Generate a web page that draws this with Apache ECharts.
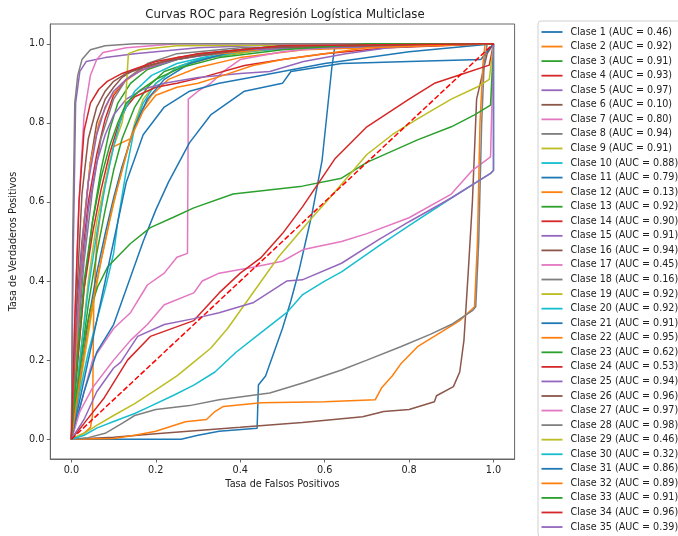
<!DOCTYPE html>
<html>
  <head>
    <meta charset="utf-8" />
    <title>Curvas ROC</title>
    <script src="https://cdn.jsdelivr.net/npm/echarts@6/dist/echarts.min.js"></script>
  </head>

  <body style="margin: 0">
    <div id="main" style="width: 678px; height: 536px"></div>
    <script type="text/javascript">
      var myChart = echarts.init(document.getElementById("main"));

      // AUC per class as printed in the legend
      const aucLabels = [
        "0.46", "0.92", "0.91", "0.93", "0.97", "0.10", "0.80", "0.94", "0.91", "0.88",
        "0.79", "0.13", "0.92", "0.90", "0.91", "0.94", "0.45", "0.16", "0.92", "0.92",
        "0.91", "0.95", "0.62", "0.53", "0.94", "0.96", "0.97", "0.98", "0.46", "0.32",
        "0.86", "0.89", "0.91", "0.96", "0.39"
      ];
      const tickVals = [0, 0.2, 0.4, 0.6, 0.8, 1.0];
      const tab10 = ["#1f77b4", "#ff7f0e", "#2ca02c", "#d62728", "#9467bd",
                     "#8c564b", "#e377c2", "#7f7f7f", "#bcbd22", "#17becf"];

      // [FPR, TPR] points
      const clase1 = [[0,0],[0.26,0],[0.3,0.01],[0.35,0.02],[0.44,0.028],[0.443,0.137],[0.46,0.16],[0.48,0.22],[0.5,0.28],[0.52,0.35],[0.54,0.43],[0.555,0.5],[0.57,0.57],[0.594,0.706],[0.617,0.94],[0.625,1],[1,1]];
      const clase2 = [[0,0],[0.03,0.015],[0.045,0.03],[0.05,0.06],[0.053,0.35],[0.06,0.5],[0.075,0.62],[0.09,0.7],[0.1,0.74],[0.14,0.76],[0.16,0.82],[0.19,0.87],[0.23,0.91],[0.3,0.94],[0.4,0.965],[0.55,0.985],[1,1]];
      const clase3 = [[0,0],[0.02,0.18],[0.04,0.34],[0.06,0.47],[0.08,0.58],[0.1,0.68],[0.12,0.76],[0.15,0.84],[0.18,0.89],[0.22,0.93],[0.3,0.96],[0.45,0.985],[0.6,1],[1,1]];
      const clase4 = [[0,0],[0.01,0.22],[0.025,0.45],[0.04,0.6],[0.06,0.72],[0.08,0.81],[0.1,0.87],[0.13,0.91],[0.17,0.94],[0.25,0.965],[0.4,0.985],[0.6,0.998],[1,1]];
      const clase5 = [[0,0],[0.004,0.45],[0.01,0.85],[0.02,0.93],[0.035,0.955],[0.08,0.965],[0.15,0.975],[0.3,0.99],[0.5,0.998],[1,1]];
      const clase6 = [[0,0],[0.1,0.005],[0.2,0.014],[0.3,0.022],[0.4,0.03],[0.547,0.042],[0.69,0.057],[0.74,0.07],[0.8,0.075],[0.86,0.095],[0.865,0.11],[0.905,0.133],[0.92,0.17],[0.93,0.25],[0.94,0.42],[0.95,0.6],[0.96,0.86],[0.985,0.975],[1,1]];
      const clase7 = [[0,0],[0.02,0.08],[0.05,0.2],[0.1,0.28],[0.14,0.32],[0.18,0.39],[0.22,0.42],[0.25,0.46],[0.275,0.47],[0.277,0.86],[0.3,0.88],[0.33,0.9],[0.36,0.93],[0.4,0.96],[0.5,0.98],[0.6,0.99],[1,1]];
      const clase8 = [[0,0],[0.015,0.25],[0.03,0.45],[0.05,0.63],[0.07,0.76],[0.1,0.86],[0.13,0.91],[0.18,0.95],[0.25,0.975],[0.4,0.99],[1,1]];
      const clase9 = [[0,0],[0.03,0.2],[0.05,0.33],[0.07,0.45],[0.09,0.55],[0.11,0.64],[0.13,0.72],[0.15,0.8],[0.17,0.86],[0.2,0.9],[0.25,0.94],[0.35,0.97],[0.5,0.99],[1,1]];
      const clase10 = [[0,0],[0.02,0.12],[0.04,0.22],[0.06,0.3],[0.08,0.38],[0.1,0.47],[0.11,0.55],[0.13,0.68],[0.15,0.79],[0.17,0.85],[0.2,0.9],[0.25,0.94],[0.3,0.96],[0.4,0.98],[0.55,0.99],[1,1]];
      const clase11 = [[0,0],[0.03,0.12],[0.06,0.22],[0.1,0.29],[0.13,0.38],[0.17,0.5],[0.2,0.58],[0.23,0.65],[0.28,0.75],[0.33,0.82],[0.41,0.88],[0.5,0.9],[0.52,0.93],[0.64,0.95],[0.8,0.955],[0.97,0.96],[1,1]];
      const clase12 = [[0,0],[0.1,0.002],[0.15,0.01],[0.2,0.02],[0.27,0.044],[0.32,0.05],[0.34,0.07],[0.36,0.083],[0.45,0.092],[0.6,0.095],[0.72,0.1],[0.735,0.13],[0.76,0.16],[0.78,0.19],[0.82,0.234],[0.875,0.27],[0.92,0.3],[0.955,0.335],[0.962,0.5],[0.968,0.8],[0.975,0.95],[0.98,1],[1,1]];
      const clase13 = [[0,0],[0.015,0.2],[0.03,0.38],[0.05,0.55],[0.07,0.68],[0.09,0.78],[0.11,0.85],[0.14,0.9],[0.18,0.935],[0.25,0.96],[0.35,0.98],[0.5,0.995],[1,1]];
      const clase14 = [[0,0],[0.015,0.2],[0.03,0.38],[0.05,0.52],[0.07,0.63],[0.09,0.72],[0.11,0.79],[0.13,0.84],[0.15,0.866],[0.2,0.89],[0.25,0.9],[0.31,0.915],[0.41,0.945],[0.5,0.96],[0.6,0.975],[0.75,0.99],[1,1]];
      const clase15 = [[0,0],[0.01,0.2],[0.025,0.42],[0.04,0.58],[0.06,0.7],[0.08,0.77],[0.1,0.82],[0.13,0.86],[0.17,0.885],[0.22,0.9],[0.3,0.915],[0.4,0.925],[0.47,0.93],[0.55,0.955],[0.65,0.975],[0.75,0.99],[0.9,0.998],[1,1]];
      const clase16 = [[0,0],[0.01,0.3],[0.025,0.5],[0.045,0.7],[0.06,0.8],[0.08,0.86],[0.1,0.89],[0.12,0.915],[0.15,0.935],[0.2,0.95],[0.3,0.975],[0.5,0.995],[1,1]];
      const clase17 = [[0,0],[0.02,0.07],[0.05,0.13],[0.1,0.2],[0.14,0.25],[0.18,0.29],[0.22,0.34],[0.29,0.37],[0.31,0.4],[0.35,0.42],[0.43,0.435],[0.5,0.45],[0.55,0.48],[0.64,0.5],[0.7,0.52],[0.8,0.56],[0.9,0.62],[0.95,0.68],[0.993,0.714],[1,1]];
      const clase18 = [[0,0],[0.04,0.004],[0.08,0.015],[0.12,0.04],[0.15,0.06],[0.2,0.075],[0.28,0.085],[0.35,0.1],[0.47,0.117],[0.55,0.143],[0.64,0.175],[0.7,0.2],[0.78,0.234],[0.85,0.265],[0.9,0.29],[0.95,0.325],[0.958,0.335],[0.965,0.5],[0.972,0.8],[0.978,0.95],[0.985,1],[1,1]];
      const clase19 = [[0,0],[0.02,0.2],[0.04,0.4],[0.06,0.55],[0.08,0.65],[0.1,0.74],[0.12,0.8],[0.128,0.85],[0.135,0.975],[0.16,0.985],[0.25,0.995],[1,1]];
      const clase20 = [[0,0],[0.02,0.2],[0.04,0.38],[0.06,0.52],[0.08,0.64],[0.1,0.74],[0.12,0.82],[0.15,0.88],[0.19,0.92],[0.25,0.95],[0.35,0.975],[0.5,0.99],[1,1]];
      const clase21 = [[0,0],[0.02,0.15],[0.04,0.3],[0.06,0.42],[0.08,0.52],[0.1,0.61],[0.12,0.69],[0.15,0.79],[0.18,0.86],[0.22,0.91],[0.28,0.95],[0.38,0.98],[0.5,0.995],[1,1]];
      const clase22 = [[0,0],[0.015,0.3],[0.03,0.55],[0.045,0.7],[0.065,0.8],[0.09,0.86],[0.12,0.9],[0.16,0.93],[0.22,0.955],[0.3,0.97],[0.5,0.99],[1,1]];
      const clase23 = [[0,0],[0.01,0.1],[0.03,0.25],[0.045,0.33],[0.062,0.385],[0.086,0.436],[0.14,0.495],[0.187,0.535],[0.243,0.562],[0.29,0.585],[0.383,0.62],[0.547,0.64],[0.64,0.66],[0.7,0.7],[0.82,0.757],[0.9,0.79],[0.955,0.82],[0.993,0.845],[1,1]];
      const clase24 = [[0,0],[0.03,0.04],[0.078,0.105],[0.133,0.2],[0.187,0.26],[0.29,0.3],[0.35,0.37],[0.4,0.42],[0.45,0.46],[0.5,0.52],[0.547,0.587],[0.625,0.71],[0.7,0.79],[0.8,0.86],[0.86,0.9],[0.93,0.925],[0.99,0.946],[1,1]];
      const clase25 = [[0,0],[0.01,0.25],[0.025,0.48],[0.04,0.65],[0.06,0.77],[0.08,0.84],[0.1,0.88],[0.13,0.91],[0.17,0.935],[0.25,0.96],[0.4,0.985],[1,1]];
      const clase26 = [[0,0],[0.012,0.35],[0.025,0.62],[0.04,0.76],[0.06,0.84],[0.08,0.88],[0.1,0.905],[0.13,0.925],[0.17,0.94],[0.22,0.955],[0.3,0.97],[0.45,0.99],[1,1]];
      const clase27 = [[0,0],[0.008,0.3],[0.018,0.6],[0.03,0.82],[0.045,0.92],[0.06,0.96],[0.075,0.978],[0.13,0.99],[0.25,1],[1,1]];
      const clase28 = [[0,0],[0.003,0.5],[0.008,0.85],[0.015,0.92],[0.025,0.96],[0.045,0.985],[0.08,0.995],[0.15,1],[1,1]];
      const clase29 = [[0,0],[0.03,0.015],[0.06,0.035],[0.1,0.06],[0.15,0.09],[0.2,0.125],[0.25,0.16],[0.29,0.195],[0.33,0.23],[0.37,0.28],[0.41,0.34],[0.45,0.4],[0.49,0.46],[0.53,0.51],[0.57,0.56],[0.62,0.62],[0.7,0.72],[0.76,0.77],[0.82,0.81],[0.9,0.86],[0.96,0.89],[0.99,0.91],[1,1]];
      const clase30 = [[0,0],[0.03,0.01],[0.06,0.028],[0.1,0.045],[0.15,0.065],[0.18,0.08],[0.24,0.11],[0.29,0.137],[0.34,0.17],[0.39,0.22],[0.45,0.27],[0.51,0.32],[0.547,0.365],[0.6,0.4],[0.64,0.423],[0.73,0.49],[0.8,0.54],[0.9,0.61],[0.96,0.65],[0.993,0.672],[1,0.68],[1,1]];
      const clase31 = [[0,0],[0.03,0.15],[0.06,0.3],[0.08,0.4],[0.1,0.5],[0.13,0.65],[0.17,0.77],[0.22,0.84],[0.28,0.88],[0.35,0.9],[0.45,0.92],[0.6,0.95],[0.8,0.98],[1,1]];
      const clase32 = [[0,0],[0.02,0.15],[0.04,0.28],[0.06,0.4],[0.08,0.5],[0.1,0.6],[0.12,0.68],[0.14,0.76],[0.17,0.83],[0.2,0.87],[0.25,0.89],[0.3,0.9],[0.36,0.92],[0.43,0.945],[0.5,0.96],[0.6,0.975],[0.7,0.99],[1,1]];
      const clase33 = [[0,0],[0.015,0.22],[0.03,0.4],[0.05,0.55],[0.07,0.66],[0.09,0.74],[0.11,0.8],[0.13,0.85],[0.16,0.88],[0.2,0.91],[0.26,0.94],[0.35,0.965],[0.5,0.985],[0.7,1],[1,1]];
      const clase34 = [[0,0],[0.008,0.3],[0.018,0.6],[0.03,0.78],[0.045,0.85],[0.065,0.885],[0.085,0.905],[0.12,0.925],[0.2,0.955],[0.3,0.975],[0.5,0.995],[1,1]];
      const clase35 = [[0,0],[0.03,0.05],[0.06,0.12],[0.1,0.18],[0.117,0.195],[0.157,0.26],[0.22,0.29],[0.29,0.305],[0.35,0.32],[0.43,0.345],[0.51,0.4],[0.547,0.403],[0.64,0.445],[0.727,0.504],[0.8,0.55],[0.9,0.61],[0.96,0.65],[0.993,0.672],[1,0.68],[1,1]];
      const diagonal = [[0,0],[1,1]];

      const curves = [clase1, clase2, clase3, clase4, clase5, clase6, clase7, clase8, clase9, clase10,
        clase11, clase12, clase13, clase14, clase15, clase16, clase17, clase18, clase19, clase20,
        clase21, clase22, clase23, clase24, clase25, clase26, clase27, clase28, clase29, clase30,
        clase31, clase32, clase33, clase34, clase35];

      const names = aucLabels.map((a, i) => "Clase " + (i + 1) + " (AUC = " + a + ")");
      const font = "DejaVu Sans";

      const series = curves.map((pts, i) => ({
        name: names[i],
        type: "line",
        data: pts,
        showSymbol: false,
        color: tab10[i % 10],
        lineStyle: { width: 1.5 },
        animation: false,
        silent: true,
      }));
      series.push({
        name: "diag",
        type: "line",
        data: diagonal,
        showSymbol: false,
        color: "#ff0000",
        lineStyle: { width: 1.5, type: [5.5, 2.4] },
        animation: false,
        silent: true,
      });

      function axis(name, gap) {
        return {
          type: "value",
          min: -0.05,
          max: 1.05,
          name: name,
          nameLocation: "middle",
          nameGap: gap,
          nameTextStyle: { fontFamily: font, fontSize: 9.7, color: "#222" },
          axisLine: { show: true, onZero: false, lineStyle: { color: "#666", width: 1 } },
          axisTick: { show: true, length: 3.5, customValues: tickVals, lineStyle: { color: "#666" } },
          axisLabel: {
            customValues: tickVals,
            formatter: (v) => v.toFixed(1),
            fontFamily: font,
            fontSize: 9.7,
            color: "#222",
            margin: 6,
          },
          splitLine: { show: false },
        };
      }

      option = {
        backgroundColor: "#fff",
        title: {
          text: "Curvas ROC para Regresión Logística Multiclase",
          left: 280,
          textAlign: "center",
          top: 4,
          textStyle: { fontFamily: font, fontSize: 11.7, fontWeight: "normal", color: "#222" },
        },
        grid: {
          left: 45.5,
          right: 163.4,
          top: 24,
          bottom: 77,
          show: true,
          borderColor: "#666",
          borderWidth: 1,
        },
        legend: {
          orient: "vertical",
          left: 538,
          top: 21,
          height: 600,
          padding: [5, 4, 4, 3.5],
          data: names,
          icon: "rect",
          itemWidth: 21,
          itemHeight: 1.8,
          itemGap: 2.56,
          borderColor: "#d0d0d0",
          borderWidth: 1,
          borderRadius: 3,
          textStyle: { fontFamily: font, fontSize: 9.6, color: "#222", lineHeight: 12, padding: [0, 0, 0, 3] },
        },
        xAxis: axis("Tasa de Falsos Positivos", 19),
        yAxis: axis("Tasa de Verdaderos Positivos", 28),
        series: series,
      };

      myChart.setOption(option);
    </script>
  </body>
</html>
